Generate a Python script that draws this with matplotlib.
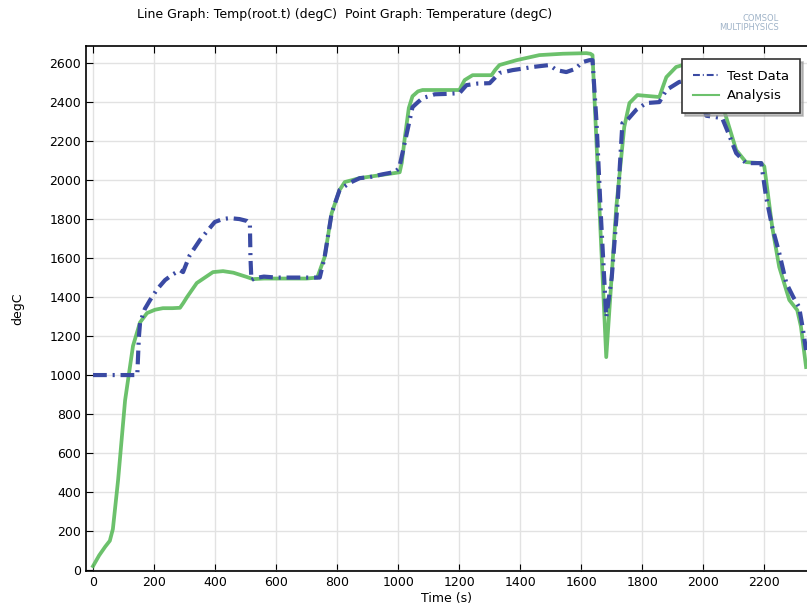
import matplotlib.pyplot as plt

# Test Data (measured)
test_t = [0, 60, 120, 145, 150, 154, 170, 187, 210, 236, 260, 285, 295, 317, 350, 375, 399,
          425, 448, 480, 505, 514, 516, 519, 530, 560, 600, 650, 700, 743, 759, 782, 808, 840,
          874, 906, 950, 988, 1003, 1020, 1047, 1065, 1080, 1120, 1160, 1201, 1224, 1260, 1300,
          1332, 1375, 1410, 1440, 1496, 1519, 1551, 1580, 1604, 1627, 1637, 1650, 1665, 1682,
          1700, 1720, 1735, 1751, 1780, 1813, 1856, 1879, 1921, 1954, 1980, 2010, 2040, 2062,
          2085, 2108, 2140, 2170, 2190, 2206, 2226, 2249, 2272, 2295, 2314, 2325, 2337]
test_v = [1000, 1000, 1000, 1000, 1190, 1267, 1340, 1385, 1440, 1487, 1515, 1538, 1528, 1615,
          1692, 1740, 1785, 1800, 1805, 1800, 1790, 1779, 1600, 1487, 1497, 1505, 1500, 1500,
          1500, 1500, 1605, 1830, 1949, 1985, 2010, 2015, 2030, 2041, 2060, 2180, 2374, 2400,
          2420, 2440, 2442, 2446, 2487, 2495, 2497, 2549, 2564, 2572, 2580, 2590, 2564, 2554,
          2570, 2605, 2615, 2615, 2300, 1800, 1297, 1500, 1900, 2292, 2308, 2360, 2395, 2400,
          2462, 2503, 2513, 2500, 2330, 2323, 2318, 2230, 2138, 2087, 2087, 2087, 1913, 1759,
          1626, 1472, 1400, 1349, 1250, 1128]

# Analysis (simulated)
ana_t = [0, 20, 40, 55, 65, 82, 105, 131, 154, 177, 203, 229, 260, 285, 296, 308, 340, 393,
         426, 460, 504, 524, 560, 600, 650, 700, 735, 759, 782, 808, 825, 874, 940, 1005,
         1012, 1022, 1035, 1047, 1065, 1080, 1140, 1201, 1210, 1218, 1244, 1306, 1318, 1332,
         1388, 1463, 1540, 1617, 1630, 1637, 1682, 1715, 1741, 1758, 1784, 1856, 1868, 1879,
         1911, 1954, 2013, 2030, 2050, 2075, 2108, 2140, 2190, 2200, 2206, 2226, 2249, 2282,
         2308, 2320, 2337]
ana_v = [20, 75, 120, 150, 210, 460, 870, 1150, 1270, 1318, 1335, 1343, 1343, 1345, 1370,
         1400, 1472, 1528, 1533, 1525, 1503, 1492, 1495, 1495, 1495, 1495, 1500, 1605, 1830,
         1949, 1990, 2010, 2025, 2040, 2090, 2220, 2370, 2430, 2455, 2462, 2462, 2462, 2490,
         2513, 2538, 2538, 2565, 2590, 2615, 2641, 2648, 2651, 2648, 2641, 1092, 1862, 2272,
         2395, 2436, 2426, 2480, 2528, 2580, 2600, 2610, 2560, 2450, 2323, 2154, 2092, 2087,
         2070, 2000, 1759, 1554, 1385, 1333, 1250, 1041]

x_ticks = list(range(0, 2201, 200))
y_ticks = list(range(0, 2601, 200))

fig = plt.figure(figsize=(8.07, 6.07), dpi=100)
ax = fig.add_axes([0.1066, 0.0593, 0.8934, 0.8647])

ax.plot(test_t, test_v, color="#3a4aa3", lw=3, linestyle=(0, (3.3, 1.4, 0.5, 1.4)),
        label="Test Data", zorder=3)
ax.plot(ana_t, ana_v, color="#5cbb5c", lw=2.7, alpha=0.9, label="Analysis", zorder=2)

ax.set_xlim(-23, 2340)
ax.set_ylim(-5, 2687)
ax.set_xticks(x_ticks)
ax.set_yticks(y_ticks)
ax.tick_params(direction="in", top=True, right=False, labelsize=9, length=5)
ax.grid(True, color="#e2e2e2", lw=1)
ax.set_axisbelow(True)
for s in ["left", "top", "bottom"]:
    ax.spines[s].set_linewidth(1.2)
ax.spines["right"].set_visible(False)

ax.set_xlabel("Time (s)", fontsize=9, labelpad=2)
ax.set_ylabel("degC", fontsize=9, labelpad=18)

leg = ax.legend(loc="upper right", bbox_to_anchor=(0.99, 0.975), borderaxespad=0,
                fontsize=9.5, fancybox=False, shadow={"color": "#999999", "alpha": 0.6},
                framealpha=1, edgecolor="#333333", handlelength=2.0, handletextpad=0.6,
                borderpad=0.8)
leg.get_frame().set_linewidth(1.2)
for h in leg.get_lines():
    h.set_linewidth(1.5)

fig.text(0.17, 0.976, "Line Graph: Temp(root.t) (degC)  Point Graph: Temperature (degC)",
         fontsize=9, va="center", ha="left")
fig.text(0.965, 0.962, "COMSOL\nMULTIPHYSICS", fontsize=6, color="#9fb3c8",
         ha="right", va="center", linespacing=0.9)

fig.savefig("out.png", dpi=100)
